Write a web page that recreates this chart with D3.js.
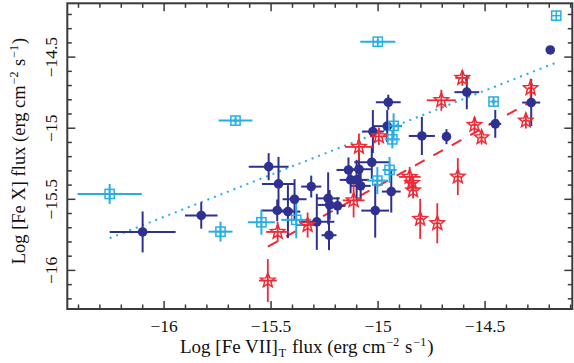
<!DOCTYPE html>
<html><head><meta charset="utf-8">
<script src="https://cdn.jsdelivr.net/npm/d3@7"></script>
<style>html,body{margin:0;padding:0;background:#fff;}svg{display:block;}</style>
</head><body>
<script>
// ---------- data (log fluxes) ----------
const navyX   = [-16.098,-15.824,-15.509,-15.463,-15.310,-15.388,-15.469,-15.419,-15.284,-15.231,-15.224,-15.187,-15.227,-15.136,-15.087,-15.126,-15.098,-15.079,-15.027,-15.022,-14.955,-14.950,-15.011,-14.936,-14.793,-14.678,-14.583,-14.450,-14.282,-14.193];
const navyY   = [-15.733,-15.617,-15.274,-15.395,-15.414,-15.503,-15.582,-15.590,-15.662,-15.497,-15.543,-15.550,-15.756,-15.297,-15.292,-15.367,-15.367,-15.409,-15.243,-15.027,-14.989,-14.821,-15.583,-15.449,-15.058,-15.063,-14.750,-14.973,-14.823,-14.453];
const navyXErr= [0.154,0.076,0.093,0.077,0.047,0.056,0.075,0.058,0.082,0.054,0.056,0.037,0.035,0.056,0.056,0.051,0.058,0.047,0.082,0.051,0.068,0.058,0.065,0.044,0.061,0.014,0.058,0.028,0.042,0];
const navyYErr= [0.144,0.093,0.095,0.190,0.077,0.141,0.077,0.186,0.197,0.183,0.105,0.060,0.105,0.088,0.120,0.095,0.141,0.098,0.116,0.151,0.113,0.053,0.190,0.148,0.134,0.053,0.120,0.098,0.165,0];

const cyanX   = [-16.252,-15.734,-15.664,-15.543,-15.380,-14.999,-14.925,-14.931,-14.944,-15.001,-14.458,-14.165];
const cyanY   = [-15.466,-15.731,-14.950,-15.665,-15.648,-14.395,-14.987,-15.082,-15.297,-15.372,-14.816,-14.212];
const cyanXErr= [0.150,0.056,0.079,0.063,0.070,0.082,0.035,0.035,0.033,0.047,0.010,0];
const cyanYErr= [0.070,0.070,0.020,0.088,0.130,0.020,0.088,0.063,0.091,0.095,0.020,0];

const redX    = [-15.513,-15.467,-15.327,-15.112,-15.087,-14.994,-14.850,-14.839,-14.834,-14.801,-14.721,-14.625,-14.702,-14.604,-14.547,-14.514,-14.307,-14.285];
const redY    = [-16.075,-15.733,-15.684,-15.511,-15.135,-15.061,-15.346,-15.388,-15.441,-15.641,-15.672,-15.344,-14.807,-14.650,-14.980,-15.068,-14.950,-14.722];
const redXErr = [0.042,0.054,0.051,0.051,0.065,0.042,0.051,0.019,0.014,0.014,0.014,0.014,0.068,0.033,0.014,0.014,0.014,0.014];
const redYErr = [0.151,0.070,0.088,0.120,0.095,0.060,0.070,0.056,0.056,0.141,0.141,0.130,0.074,0.056,0.056,0.050,0.056,0.067];

// fit lines (endpoints in data units)
const dottedFitX = [-16.252,-14.154];
const dottedFitY = [-15.777,-14.535];
const dashedFitX = [-15.513,-14.282];
const dashedFitY = [-15.836,-14.816];

const xMajorTicks = [-16,-15.5,-15,-14.5];
const yMajorTicks = [-16,-15.5,-15,-14.5];
const xDomain = [-16.45,-14.09];
const yDomain = [-16.275,-14.125];

// ---------- drawing ----------
const W=574,H=363;
const NAVY="#2e3192", CYAN="#27aee4", RED="#ed2a35", AXC="#3a3a3a";
const FONT="'Liberation Serif','Times New Roman',serif";
const svg=d3.select("body").append("svg").attr("width",W).attr("height",H);
const x=d3.scaleLinear().domain(xDomain).range([67.3,572.3]);
const y=d3.scaleLinear().domain(yDomain).range([309,3.3]);
const fmt=v=>(v<0?"\u2212":"")+Math.abs(v);

const minorX=d3.range(-164,-140).map(v=>v/10).filter(v=>v>=xDomain[0]&&v<=xDomain[1]&&!xMajorTicks.some(t=>Math.abs(t-v)<1e-9));
const minorY=d3.range(-162,-141).map(v=>v/10).filter(v=>v>=yDomain[0]&&v<=yDomain[1]&&!yMajorTicks.some(t=>Math.abs(t-v)<1e-9));

function styleAxis(g){g.select(".domain").remove();g.selectAll("line").attr("stroke",AXC).attr("stroke-width",1.5);}
// bottom
svg.append("g").attr("transform",`translate(0,${y.range()[0]})`)
  .call(d3.axisBottom(x).tickValues(xMajorTicks).tickSizeInner(-8).tickSizeOuter(0).tickPadding(10.5).tickFormat(fmt))
  .call(styleAxis).call(g=>g.selectAll("text").attr("font-family",FONT).attr("font-size",17.5).attr("fill","#111"));
svg.append("g").attr("transform",`translate(0,${y.range()[0]})`)
  .call(d3.axisBottom(x).tickValues(minorX).tickSizeInner(-4.5).tickSizeOuter(0).tickFormat(""))
  .call(styleAxis);
// top
svg.append("g").attr("transform",`translate(0,${y.range()[1]})`)
  .call(d3.axisTop(x).tickValues(xMajorTicks).tickSizeInner(-8).tickSizeOuter(0).tickFormat(""))
  .call(styleAxis);
svg.append("g").attr("transform",`translate(0,${y.range()[1]})`)
  .call(d3.axisTop(x).tickValues(minorX).tickSizeInner(-4.5).tickSizeOuter(0).tickFormat(""))
  .call(styleAxis);
// left
const gl=svg.append("g").attr("transform",`translate(${x.range()[0]},0)`)
  .call(d3.axisLeft(y).tickValues(yMajorTicks).tickSizeInner(-8).tickSizeOuter(0).tickFormat(fmt))
  .call(styleAxis);
gl.selectAll(".tick text").attr("x",null).attr("dy",null).attr("text-anchor","middle")
  .attr("transform","translate(-10,0) rotate(-90)")
  .attr("font-family",FONT).attr("font-size",17.5).attr("fill","#111");
svg.append("g").attr("transform",`translate(${x.range()[0]},0)`)
  .call(d3.axisLeft(y).tickValues(minorY).tickSizeInner(-4.5).tickSizeOuter(0).tickFormat(""))
  .call(styleAxis);
// right
svg.append("g").attr("transform",`translate(${x.range()[1]},0)`)
  .call(d3.axisRight(y).tickValues(yMajorTicks).tickSizeInner(-8).tickSizeOuter(0).tickFormat(""))
  .call(styleAxis);
svg.append("g").attr("transform",`translate(${x.range()[1]},0)`)
  .call(d3.axisRight(y).tickValues(minorY).tickSizeInner(-4.5).tickSizeOuter(0).tickFormat(""))
  .call(styleAxis);
// frame
svg.append("rect").attr("x",x.range()[0]).attr("y",y.range()[1])
  .attr("width",x.range()[1]-x.range()[0]).attr("height",y.range()[0]-y.range()[1])
  .attr("fill","none").attr("stroke",AXC).attr("stroke-width",2);

// axis titles
const xt=svg.append("text").attr("x",180).attr("y",353).attr("font-family",FONT).attr("font-size",19).attr("fill","#111");
xt.append("tspan").text("Log [Fe VII]");
xt.append("tspan").attr("font-size",12).attr("dx",1).attr("dy",4).text("T");
xt.append("tspan").attr("dx",1).attr("dy",-4).text(" flux (erg cm");
xt.append("tspan").attr("font-size",12).attr("dx",1).attr("dy",-7).text("\u22122");
xt.append("tspan").attr("dx",1).attr("dy",7).text(" s");
xt.append("tspan").attr("font-size",12).attr("dx",1).attr("dy",-7).text("\u22121");
xt.append("tspan").attr("dx",1).attr("dy",7).text(")");

const yt=svg.append("text").attr("transform","translate(25,151) rotate(-90)").attr("text-anchor","middle")
  .attr("font-family",FONT).attr("font-size",18.5).attr("fill","#111");
yt.append("tspan").text("Log [Fe X] flux (erg cm");
yt.append("tspan").attr("font-size",12).attr("dx",1).attr("dy",-7).text("\u22122");
yt.append("tspan").attr("dx",1).attr("dy",7).text(" s");
yt.append("tspan").attr("font-size",12).attr("dx",1).attr("dy",-7).text("\u22121");
yt.append("tspan").attr("dx",1).attr("dy",7).text(")");

const plot=svg.append("g");
// fit lines
plot.append("line").attr("x1",x(dottedFitX[0])).attr("y1",y(dottedFitY[0])).attr("x2",x(dottedFitX[1])).attr("y2",y(dottedFitY[1]))
  .attr("stroke",CYAN).attr("stroke-width",2).attr("stroke-dasharray","2,5");
plot.append("line").attr("x1",x(dashedFitX[0])).attr("y1",y(dashedFitY[0])).attr("x2",x(dashedFitX[1])).attr("y2",y(dashedFitY[1]))
  .attr("stroke",RED).attr("stroke-width",2).attr("stroke-dasharray","11,10");

function errBars(X,Y,EX,EY,color,w){
  const g=plot.append("g").attr("stroke",color).attr("stroke-width",w);
  X.forEach((xv,i)=>{
    if(EX[i]>0) g.append("line").attr("x1",x(xv-EX[i])).attr("x2",x(xv+EX[i])).attr("y1",y(Y[i])).attr("y2",y(Y[i]));
    if(EY[i]>0) g.append("line").attr("x1",x(xv)).attr("x2",x(xv)).attr("y1",y(Y[i]-EY[i])).attr("y2",y(Y[i]+EY[i]));
  });
}
errBars(navyX,navyY,navyXErr,navyYErr,NAVY,2);
errBars(cyanX,cyanY,cyanXErr,cyanYErr,CYAN,2);
errBars(redX,redY,redXErr,redYErr,RED,1.8);

// navy filled circles
plot.append("g").selectAll("circle").data(navyX).join("circle")
  .attr("cx",d=>x(d)).attr("cy",(d,i)=>y(navyY[i])).attr("r",4.8).attr("fill",NAVY);
// cyan squares with cross
const sq=plot.append("g").attr("stroke",CYAN).attr("stroke-width",1.5).attr("fill","none");
cyanX.forEach((xv,i)=>{
  const cx=x(xv),cy=y(cyanY[i]),h=4.6;
  sq.append("rect").attr("x",cx-h).attr("y",cy-h).attr("width",2*h).attr("height",2*h);
  sq.append("line").attr("x1",cx).attr("x2",cx).attr("y1",cy-h).attr("y2",cy+h);
  sq.append("line").attr("x1",cx-h).attr("x2",cx+h).attr("y1",cy).attr("y2",cy);
});
// red open stars
function starPath(R,r){
  const p=[];
  for(let k=0;k<10;k++){const a=-Math.PI/2+k*Math.PI/5;const rr=k%2?r:R;p.push([rr*Math.cos(a),rr*Math.sin(a)]);}
  return "M"+p.map(q=>q[0].toFixed(2)+","+q[1].toFixed(2)).join("L")+"Z";
}
const sp=starPath(7.5,3.3);
plot.append("g").selectAll("path").data(redX).join("path")
  .attr("d",sp).attr("transform",(d,i)=>`translate(${x(d)},${y(redY[i])})`)
  .attr("fill","none").attr("stroke",RED).attr("stroke-width",1.5);
</script>
</body></html>
